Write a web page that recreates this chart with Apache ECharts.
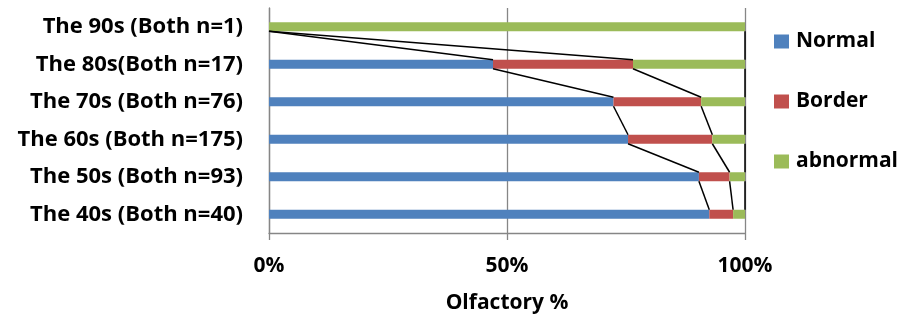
<!DOCTYPE html>
<html>
<head>
<meta charset="utf-8">
<script src="https://cdn.jsdelivr.net/npm/echarts@6/dist/echarts.min.js"></script>
<style>
  html, body { margin: 0; padding: 0; background: #fff; }
  #chart { width: 903px; height: 323px; }
</style>
</head>
<body>
<div id="chart"></div>
<script>
// Age groups, bottom to top
const categories = [
  'The 40s (Both n=40)',
  'The 50s (Both n=93)',
  'The 60s (Both n=175)',
  'The 70s (Both n=76)',
  'The 80s(Both n=17)',
  'The 90s (Both n=1)'
];
// Share of each olfactory result, percent
const normal   = [92.5, 90.32, 75.43, 72.37, 47.06, 0];
const border   = [5.0, 6.45, 17.71, 18.42, 29.41, 0];
const abnormal = [2.5, 3.23, 6.86, 9.21, 23.53, 100];
const xTicks = [0, 50, 100];

const BAR_W = 9;
const FONT = '"Open Sans", sans-serif';

// Boundaries between segments, used by the connector lines
const cumNormal = normal.map(v => v);
const cumBorder = normal.map((v, i) => v + border[i]);
const cumTotal = normal.map((v, i) => v + border[i] + abnormal[i]);

// One connector per pair of neighbouring bars, for each boundary
const connectorData = [];
[cumNormal, cumBorder, cumTotal].forEach(cum => {
  for (let i = 0; i < categories.length - 1; i++) {
    connectorData.push([cum[i + 1], i + 1, cum[i], i]);
  }
});

const chart = echarts.init(document.getElementById('chart'));
chart.setOption({
  animation: false,
  grid: { left: 269, right: 158, top: 8, bottom: 90, containLabel: false },
  legend: {
    orient: 'vertical',
    left: 769,
    top: 26,
    itemWidth: 15,
    itemHeight: 14,
    itemGap: 39,
    icon: 'rect',
    data: ['Normal', 'Border', 'abnormal'],
    textStyle: { fontFamily: FONT, fontWeight: 'bold', fontSize: 21, color: '#000', padding: [0, 0, 0, 2] }
  },
  xAxis: {
    type: 'value',
    min: 0,
    max: 100,
    interval: 50,
    name: 'Olfactory %',
    nameLocation: 'middle',
    nameGap: 60,
    nameTextStyle: { fontFamily: FONT, fontWeight: 'bold', fontSize: 21, color: '#000' },
    axisLine: { show: true, lineStyle: { color: '#868686', width: 1.3 } },
    axisTick: { show: true, length: 7, lineStyle: { color: '#868686', width: 1.3 } },
    axisLabel: {
      margin: 23,
      fontFamily: FONT, fontWeight: 'bold', fontSize: 21, color: '#000',
      formatter: v => (xTicks.includes(v) ? v + '%' : '')
    },
    splitLine: { show: true, lineStyle: { color: '#868686', width: 1.3 } }
  },
  yAxis: {
    type: 'category',
    data: categories,
    axisLine: { show: true, lineStyle: { color: '#868686', width: 1.3 } },
    axisTick: { show: false },
    axisLabel: {
      margin: 26,
      fontFamily: FONT, fontWeight: 'bold', fontSize: 22, color: '#000'
    }
  },
  series: [
    { name: 'Normal', type: 'bar', stack: 'total', barWidth: BAR_W, data: normal,
      itemStyle: { color: '#4F81BD' } },
    { name: 'Border', type: 'bar', stack: 'total', barWidth: BAR_W, data: border,
      itemStyle: { color: '#C0504D' } },
    { name: 'abnormal', type: 'bar', stack: 'total', barWidth: BAR_W, data: abnormal,
      itemStyle: { color: '#9BBB59' } },
    {
      name: 'series lines',
      type: 'custom',
      coordinateSystem: 'cartesian2d',
      data: connectorData,
      encode: { x: [0, 2], y: [1, 3] },
      silent: true,
      z: 5,
      renderItem: (params, api) => {
        const p1 = api.coord([api.value(0), api.value(1)]);
        const p2 = api.coord([api.value(2), api.value(3)]);
        const h = BAR_W / 2;
        return {
          type: 'line',
          shape: { x1: p1[0], y1: p1[1] + h, x2: p2[0], y2: p2[1] - h },
          style: { stroke: '#000', lineWidth: 1.5 }
        };
      }
    }
  ]
});
</script>
</body>
</html>
